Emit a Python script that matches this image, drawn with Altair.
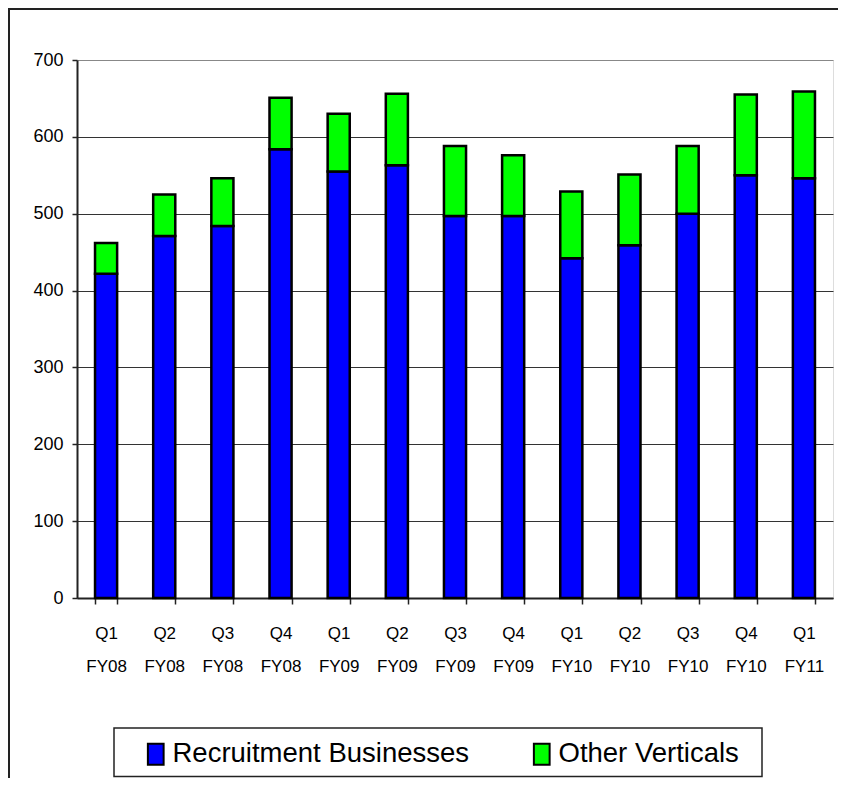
import altair as alt
import pandas as pd

quarters = ["Q1 FY08", "Q2 FY08", "Q3 FY08", "Q4 FY08", "Q1 FY09", "Q2 FY09",
            "Q3 FY09", "Q4 FY09", "Q1 FY10", "Q2 FY10", "Q3 FY10", "Q4 FY10", "Q1 FY11"]
recruitment = [422, 471, 484, 584, 555, 563, 497, 497, 442, 459, 500, 550, 546]
other_verticals = [40, 54, 62, 67, 75, 93, 91, 79, 87, 92, 88, 105, 113]
series = ["Recruitment Businesses", "Other Verticals"]
colors = ["#0000FF", "#00FF00"]
y_ticks = [0, 100, 200, 300, 400, 500, 600, 700]

FONT = "Liberation Sans Narrow, Arial Narrow, Liberation Sans, Arial, sans-serif"

rows = []
for q, r, o in zip(quarters, recruitment, other_verticals):
    rows.append({"Quarter": q, "Segment": series[0], "Value": r, "Ord": 0})
    rows.append({"Quarter": q, "Segment": series[1], "Value": o, "Ord": 1})
df = pd.DataFrame(rows)

one = pd.DataFrame({"d": [0]})

W, H = 756, 538

frame_top = alt.Chart(one).mark_rule(color="#222222", strokeWidth=2).encode(
    x=alt.value(-69), x2=alt.value(W + 40), y=alt.value(-51))
frame_left = alt.Chart(one).mark_rule(color="#222222", strokeWidth=2).encode(
    x=alt.value(-68), y=alt.value(-52), y2=alt.value(H + 200))

legend_box = alt.Chart(one).mark_rect(fill="white", stroke="#222222", strokeWidth=1.5).encode(
    x=alt.value(37), x2=alt.value(685), y=alt.value(668), y2=alt.value(716.5))

bars = alt.Chart(df).mark_bar(stroke="black", strokeWidth=2.5).encode(
    x=alt.X("Quarter:N", sort=quarters, title=None,
            scale=alt.Scale(paddingInner=0.62, paddingOuter=0.31),
            axis=alt.Axis(labelAngle=0, tickBand="extent", tickSize=6, tickColor="#222222",
                          tickWidth=1.5, domainColor="#222222", domainWidth=2,
                          labelExpr="datum.value ? split(datum.value, ' ') : ''",
                          labelFont=FONT, labelFontSize=17, labelLineHeight=33,
                          labelPadding=21, labelColor="black", grid=False)),
    y=alt.Y("Value:Q", stack="zero", title=None,
            scale=alt.Scale(domain=[0, 700], nice=False),
            axis=alt.Axis(values=y_ticks, tickSize=5, tickColor="#222222", tickWidth=1.5,
                          domainColor="#222222", domainWidth=2, labelFont=FONT,
                          labelFontSize=18, labelPadding=9, labelColor="black",
                          grid=True, gridWidth=1.2,
                          gridColor=alt.condition("datum.value === 700",
                                                  alt.value("#888888"), alt.value("#333333")))),
    color=alt.Color("Segment:N", scale=alt.Scale(domain=series, range=colors),
                    legend=alt.Legend(title=None, orient="none", direction="horizontal",
                                      legendX=65, legendY=680, padding=0,
                                      symbolType="M-0.75,-1H0.75V1H-0.75Z", symbolSize=441,
                                      symbolStrokeColor="black", symbolStrokeWidth=2,
                                      symbolOpacity=1,
                                      labelFont=FONT, labelFontSize=27.5, labelColor="black",
                                      labelOffset=3, columnPadding=58, labelLimit=400)),
    order=alt.Order("Ord:Q", sort="ascending"),
)

chart = alt.layer(frame_top, frame_left, legend_box, bars).properties(
    width=W, height=H,
    autosize=alt.AutoSizeParams(type="none"),
    padding={"left": 69, "top": 52, "right": 5, "bottom": 180},
).configure_view(stroke="#888888", strokeWidth=2).configure(background="white")

chart.save("out.html", embed_options={"renderer": "svg", "actions": False})
